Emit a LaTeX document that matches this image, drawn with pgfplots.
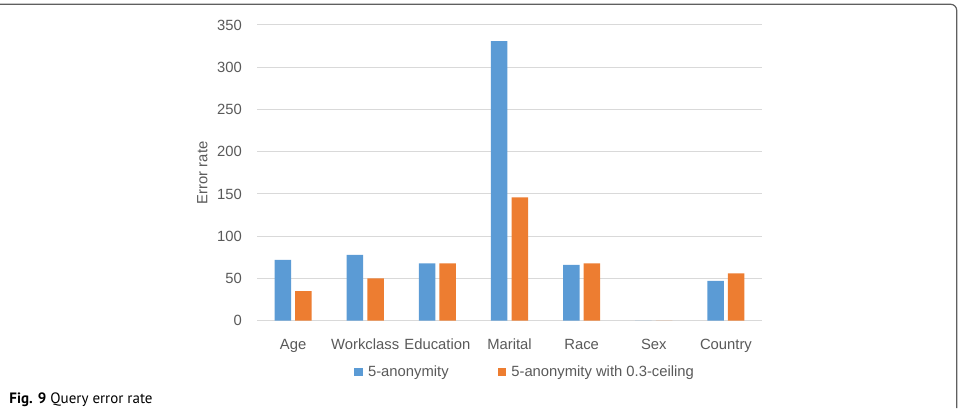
\documentclass[border=0pt]{standalone}
\usepackage{fontspec}
\setmainfont{Liberation Sans}
\newfontfamily\capfont{PT Sans}
\usepackage{pgfplots}
\pgfplotsset{compat=1.18}
\definecolor{barblue}{HTML}{5B9BD5}
\definecolor{barorange}{HTML}{ED7D31}
\definecolor{gridgrey}{HTML}{D9D9D9}
\definecolor{labelgrey}{HTML}{595959}
\definecolor{framegrey}{HTML}{5F5F5F}
\newcommand{\chartfont}{\fontsize{14.8bp}{17bp}\selectfont}
\begin{document}
\begin{tikzpicture}[x=1bp,y=1bp]
\useasboundingbox (0,0) rectangle (964,408);
% page frame (top edge and right edge with a rounded corner)
\draw[framegrey, line width=1.2bp] (0,403.7) -- (950.7,403.7) arc[start angle=90,end angle=0,radius=6] -- (956.7,0);
\begin{axis}[
  at={(257bp,87.3bp)}, anchor=south west,
  scale only axis, width=505bp, height=295.7bp,
  xmin=-0.5, xmax=6.5, ymin=0, ymax=350,
  ytick={0,50,...,350},
  xtick={0,...,6},
  xticklabels={Age,Workclass,Education,Marital,Race,Sex,Country},
  major tick length=0pt,
  ymajorgrids, grid style={gridgrey, line width=1bp},
  axis x line*=bottom, axis y line*=left,
  x axis line style={gridgrey, line width=1bp, -},
  y axis line style={draw=none},
  ticklabel style={font=\chartfont, text=labelgrey},
  /pgf/number format/assume math mode=true,
  xticklabel style={anchor=base, yshift=-28.3bp},
  yticklabel style={anchor=east, inner sep=0pt, xshift=-15bp},
  ylabel={Error rate},
  ylabel style={at={(axis description cs:-0.108,0.5)}, anchor=center, font=\chartfont, text=labelgrey},
  ybar, bar width=16.5bp,
  legend style={at={(0.531,-0.1735)}, anchor=center, draw=none, fill=none,
    legend columns=2, font=\chartfont, text=labelgrey,
    /tikz/every odd column/.append style={column sep=3bp},
    /tikz/every even column/.append style={column sep=47bp}},
]
\addplot[fill=barblue, draw=none, bar shift=-10.3bp,
  legend image code/.code={\fill[barblue] (0bp,-4.35bp) rectangle (8.7bp,4.35bp);}]
  coordinates {(0,72) (1,78) (2,68) (3,331) (4,66) (5,0) (6,47)};
\addlegendentry{5-anonymity}
\addplot[fill=barorange, draw=none, bar shift=10.3bp,
  legend image code/.code={\fill[barorange] (0bp,-4.35bp) rectangle (8.7bp,4.35bp);}]
  coordinates {(0,35) (1,50) (2,68) (3,146) (4,68) (5,0) (6,56)};
\addlegendentry{5-anonymity with 0.3-ceiling}
\end{axis}
\node[anchor=base west, inner sep=0pt] at (9.3,5) {\capfont\fontsize{15bp}{17bp}\selectfont\textbf{Fig. 9} Query error rate};
\end{tikzpicture}
\end{document}
